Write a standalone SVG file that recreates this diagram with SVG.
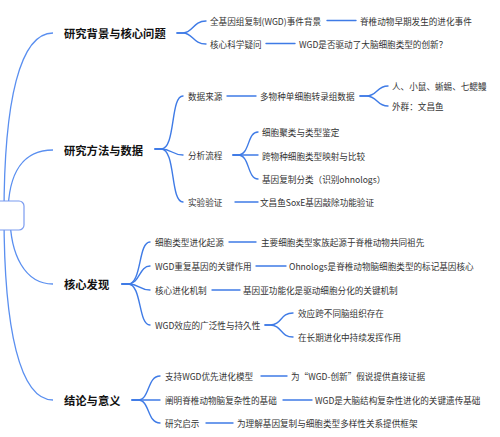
<svg xmlns="http://www.w3.org/2000/svg" width="500" height="437" viewBox="0 0 500 437">
<style>
.c{fill:none;stroke:#3f7be6;stroke-width:1.4;stroke-linecap:round}
.r{fill:none;stroke:#5a8ff0;stroke-width:1.3}
.t1{font-family:"Noto Sans CJK SC","Noto Sans",sans-serif;font-size:11.3px;font-weight:bold;fill:#111;dominant-baseline:central}
.t2{font-family:"Noto Sans CJK SC","Noto Sans",sans-serif;font-size:8.6px;fill:#333;dominant-baseline:central}
</style>
<rect width="500" height="437" fill="#fff"/>
<g id="connectors">
<path class="r" d="M4,215 C4,100 20,33 53,33"/>
<path class="r" d="M8,215 C8,170 25,150 53,150"/>
<path class="r" d="M10,215 C10,255 25,284 53,284"/>
<path class="r" d="M4,215 C4,330 20,400 53,400"/>
<path class="c" d="M177,33 H183 C193,33 193,21 206,21"/>
<path class="c" d="M177,33 H183 C193,33 193,44 206,44"/>
<path class="c" d="M327,20.5 H356"/>
<path class="c" d="M266,43.5 H295"/>
<path class="c" d="M155,149 H161 C176,149 170,96 183,96"/>
<path class="c" d="M155,149 H161 C172,149 172,155 183,155"/>
<path class="c" d="M155,149 H161 C176,149 170,202 183,202"/>
<path class="c" d="M227,96 H256"/>
<path class="c" d="M360,96 H366 C378,96 376,86 388,86"/>
<path class="c" d="M360,96 H366 C378,96 376,106 388,106"/>
<path class="c" d="M233,155 H238 C250,155 247,132 258,132"/>
<path class="c" d="M233,155 H258"/>
<path class="c" d="M233,155 H238 C250,155 247,179 258,179"/>
<path class="c" d="M235,202 H258"/>
<path class="c" d="M122,284 H128 C142,284 138,242 150,242"/>
<path class="c" d="M122,284 H128 C140,284 139,266 150,266"/>
<path class="c" d="M122,284 H128 C140,284 139,290 150,290"/>
<path class="c" d="M122,284 H128 C142,284 138,325 150,325"/>
<path class="c" d="M229,242 H256"/>
<path class="c" d="M256,266 H286"/>
<path class="c" d="M212,290 H240"/>
<path class="c" d="M265,325 H270 C282,325 280,313 293,313"/>
<path class="c" d="M265,325 H270 C282,325 280,337 293,337"/>
<path class="c" d="M132,400 H138 C150,400 147,376 160,376"/>
<path class="c" d="M132,400 H160"/>
<path class="c" d="M132,400 H138 C150,400 147,423 160,423"/>
<path class="c" d="M261,376 H287"/>
<path class="c" d="M283,400 H312"/>
<path class="c" d="M206,423 H233"/>
</g>
<g id="root"><rect x="-20" y="201" width="44" height="29" rx="5" fill="#fff" stroke="#7b9cf0" stroke-width="1.2"/></g>
<g id="n1"><text class="t1" x="64" y="33">研究背景与核心问题</text></g>
<g id="n2"><text class="t1" x="64" y="150">研究方法与数据</text></g>
<g id="n3"><text class="t1" x="64" y="284">核心发现</text></g>
<g id="n4"><text class="t1" x="64" y="400">结论与意义</text></g>
<g id="n1a"><text class="t2" x="210" y="21">全基因组复制(WGD)事件背景</text></g>
<g id="n1b"><text class="t2" x="210" y="44">核心科学疑问</text></g>
<g id="n1a1"><text class="t2" x="360" y="21">脊椎动物早期发生的进化事件</text></g>
<g id="n1b1"><text class="t2" x="299" y="44">WGD是否驱动了大脑细胞类型的创新？</text></g>
<g id="n2a"><text class="t2" x="188" y="96">数据来源</text></g>
<g id="n2b"><text class="t2" x="188" y="155">分析流程</text></g>
<g id="n2c"><text class="t2" x="188" y="202">实验验证</text></g>
<g id="n2a1"><text class="t2" x="260" y="96">多物种单细胞转录组数据</text></g>
<g id="n2a1a"><text class="t2" x="392" y="86">人、小鼠、蜥蜴、七鳃鳗</text></g>
<g id="n2a1b"><text class="t2" x="392" y="106">外群：文昌鱼</text></g>
<g id="n2b1"><text class="t2" x="262" y="132">细胞聚类与类型鉴定</text></g>
<g id="n2b2"><text class="t2" x="262" y="156">跨物种细胞类型映射与比较</text></g>
<g id="n2b3"><text class="t2" x="262" y="179">基因复制分类（识别ohnologs）</text></g>
<g id="n2c1"><text class="t2" x="260" y="202">文昌鱼SoxE基因敲除功能验证</text></g>
<g id="n3a"><text class="t2" x="155" y="242">细胞类型进化起源</text></g>
<g id="n3b"><text class="t2" x="155" y="266">WGD重复基因的关键作用</text></g>
<g id="n3c"><text class="t2" x="155" y="290">核心进化机制</text></g>
<g id="n3d"><text class="t2" x="155" y="325">WGD效应的广泛性与持久性</text></g>
<g id="n3a1"><text class="t2" x="261" y="242">主要细胞类型家族起源于脊椎动物共同祖先</text></g>
<g id="n3b1"><text class="t2" x="289" y="266">Ohnologs是脊椎动物脑细胞类型的标记基因核心</text></g>
<g id="n3c1"><text class="t2" x="243" y="290">基因亚功能化是驱动细胞分化的关键机制</text></g>
<g id="n3d1"><text class="t2" x="298" y="313">效应跨不同脑组织存在</text></g>
<g id="n3d2"><text class="t2" x="298" y="337">在长期进化中持续发挥作用</text></g>
<g id="n4a"><text class="t2" x="165" y="376">支持WGD优先进化模型</text></g>
<g id="n4b"><text class="t2" x="165" y="400">阐明脊椎动物脑复杂性的基础</text></g>
<g id="n4c"><text class="t2" x="165" y="423">研究启示</text></g>
<g id="n4a1"><text class="t2" x="291" y="376">为“WGD-创新”假说提供直接证据</text></g>
<g id="n4b1"><text class="t2" x="315" y="400">WGD是大脑结构复杂性进化的关键遗传基础</text></g>
<g id="n4c1"><text class="t2" x="237" y="423">为理解基因复制与细胞类型多样性关系提供框架</text></g>
</svg>
